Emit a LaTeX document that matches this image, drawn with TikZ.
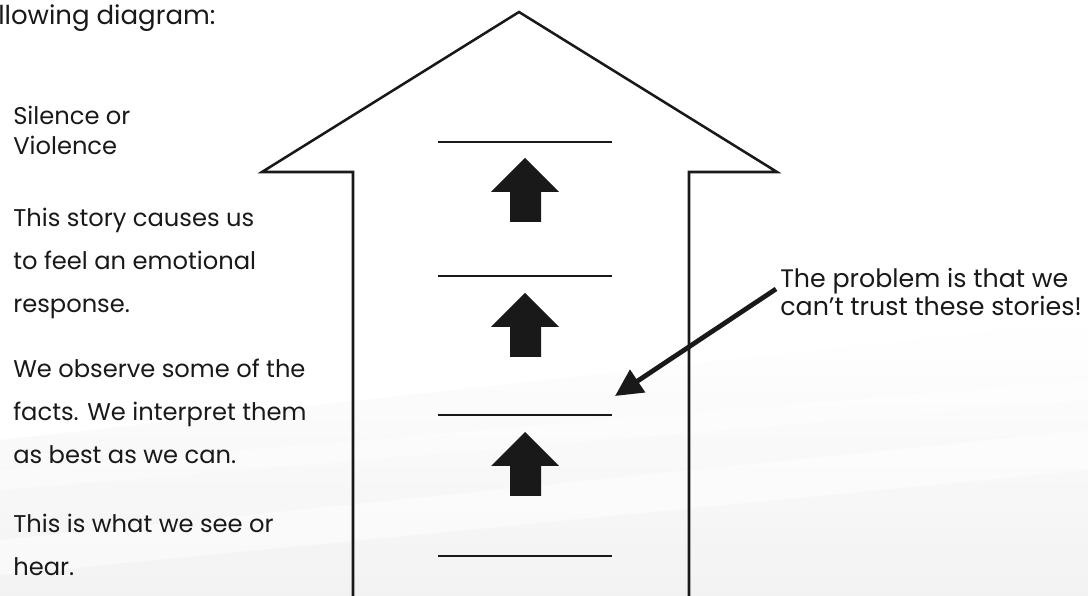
\documentclass[tikz,border=0pt]{standalone}
\usepackage{fontspec}
\setmainfont{Poppins}
\usepackage{tikz}
\usetikzlibrary{arrows.meta}
\colorlet{lineblack}{black!90}
\colorlet{streak}{black!7}
\tikzset{
  desc/.style={anchor=west, align=left, inner sep=0pt, text=lineblack,
               font=\fontsize{17.2}{30.6}\selectfont},
  tight/.style={font=\fontsize{17.2}{21.3}\selectfont},
  note/.style={font=\fontsize{18}{20.6}\selectfont},
  rung/.style={lineblack, line width=1.1pt},
  bigarrow/.style={lineblack, line width=1.8pt, line join=miter},
}

\begin{document}
\begin{tikzpicture}[x=0.025cm, y=-0.025cm, >=Latex]

    \useasboundingbox (0,0) rectangle (1088,596);

    % ===== FAINT BACKGROUND STREAKS =====
    \shade[top color=white, bottom color=streak, opacity=0.7]
        (0,440) -- (1088,320) -- (1088,596) -- (0,596) -- cycle;
    \fill[white, opacity=0.5] (0,540) -- (1088,430) -- (1088,470) -- (0,575) -- cycle;
    \fill[white, opacity=0.4] (0,470) -- (1088,380) -- (1088,400) -- (0,490) -- cycle;

    % ===== BIG OUTLINE ARROW =====
    \draw[bigarrow] (353,596) -- (353,172) -- (262,172) -- (519,12)
        -- (777,172) -- (689,172) -- (689,596);

    % ===== RUNGS AND SMALL ARROWS =====
    \foreach \y in {142, 276, 415, 556} {
        \draw[rung] (438,\y) -- (612,\y);
    }
    \foreach \t in {158, 293, 432} {
        \fill[lineblack] (525,\t) -- (559,\t+34) -- (541,\t+34) -- (541,\t+64)
            -- (510,\t+64) -- (510,\t+34) -- (491,\t+34) -- cycle;
    }

    % ===== LEFT TEXTS =====
    \node[desc, font=\fontsize{18.5}{22}\selectfont] (intro) at (-2,18) {llowing diagram:};
    \node[desc, tight] (action) at (13,130) {Silence or\\Violence};
    \node[desc] (feel) at (13,263) {This story causes us\\to feel an emotional\\response.};
    \node[desc] (story) at (13,411) {We observe some of the\\facts. We interpret them\\as best as we can.};
    \node[desc] (see) at (13,545) {This is what we see or\\hear.};

    % ===== RIGHT NOTE AND POINTER =====
    \node[desc, note] (problem) at (780,292) {The problem is that we\\can't trust these stories!};
    \coordinate (tail) at (776,289);
    \coordinate (tip) at (615,396);
    \draw[lineblack, line width=3.4pt, -{Triangle[length=0.68cm, width=0.66cm]}] (tail) -- (tip);

\end{tikzpicture}
\end{document}
